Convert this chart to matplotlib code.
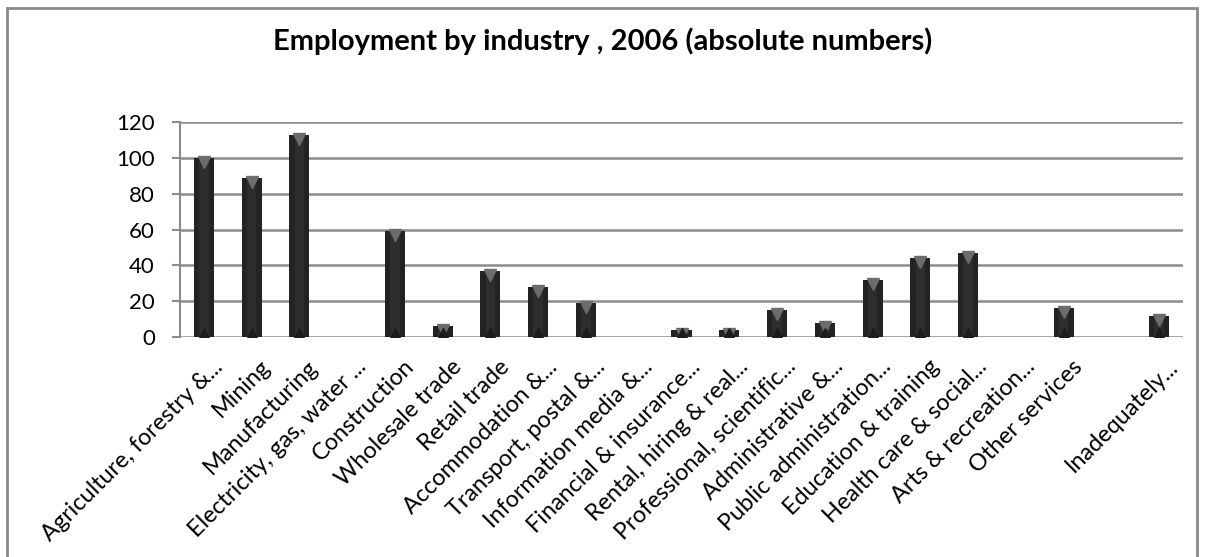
import numpy as np
import matplotlib.pyplot as plt
from matplotlib.patches import Rectangle
from matplotlib.transforms import ScaledTranslation

plt.rcParams['font.family'] = ['Lato', 'DejaVu Sans']

industries = [
    'Agriculture, forestry &...', 'Mining', 'Manufacturing',
    'Electricity, gas, water ...', 'Construction', 'Wholesale trade',
    'Retail trade', 'Accommodation &...', 'Transport, postal &...',
    'Information media &...', 'Financial & insurance...',
    'Rental, hiring & real...', 'Professional, scientific...',
    'Administrative &...', 'Public administration...',
    'Education & training', 'Health care & social...',
    'Arts & recreation...', 'Other services', '', 'Inadequately...',
]
employed = [100, 89, 113, 0, 59, 6, 37, 28, 19, 0, 4, 4, 15, 8, 32, 44, 47,
            0, 16, 0, 12]
yticks = [0, 20, 40, 60, 80, 100, 120]

fig = plt.figure(figsize=(12.05, 5.57), dpi=100)
ax = fig.add_axes([180 / 1205, 1 - 337 / 557, 1003 / 1205, 215 / 557])

x = np.arange(len(industries))
vals = np.array(employed, dtype=float)

ax.bar(x, vals, width=0.42, color='#232323', zorder=3)
# lighter centre strip to give a rounded look
ax.bar(x, vals, width=0.2, color='#2e2e2e', zorder=3)

# bevel triangles on top and bottom of each bar
nz = vals > 0
ax.plot(x[nz], vals[nz] - 2.3, linestyle='none', marker='v', markersize=9,
        color='#6c6c6c', zorder=4)
ax.plot(x[nz], np.full(nz.sum(), 1.6), linestyle='none', marker='^',
        markersize=8, color='#1c1c1c', zorder=4)

ax.set_xlim(-0.5, len(industries) - 0.5)
ax.set_ylim(0, 120)
ax.set_yticks(yticks)
ax.yaxis.grid(True, color='#8c8c8c', linewidth=1.8, zorder=1)
ax.set_axisbelow(True)

for side in ['top', 'right', 'bottom']:
    ax.spines[side].set_visible(False)
ax.spines['left'].set_color('#8c8c8c')
ax.spines['left'].set_linewidth(1.5)
ax.tick_params(axis='y', length=6, width=1.5, color='#8c8c8c',
               labelsize=16, pad=12)
ax.tick_params(axis='x', length=0, labelsize=16.8, pad=0)

ax.set_xticks(x)
ax.set_xticklabels(industries, rotation=45, ha='right', va='baseline',
                   rotation_mode='anchor')
shift = ScaledTranslation(0.20, -0.31, fig.dpi_scale_trans)
for lbl in ax.get_xticklabels():
    lbl.set_transform(lbl.get_transform() + shift)

fig.text(0.5, 1 - 41 / 557, 'Employment by industry , 2006 (absolute numbers)',
         ha='center', va='center', fontsize=21, fontweight='bold')

# chart frame
fig.patches.append(Rectangle((7 / 1205, -0.05), 1190 / 1205, 1.05 - 8 / 557,
                             transform=fig.transFigure, fill=False,
                             edgecolor='#8a8a8a', linewidth=2))

fig.savefig('out.png', dpi=100)
